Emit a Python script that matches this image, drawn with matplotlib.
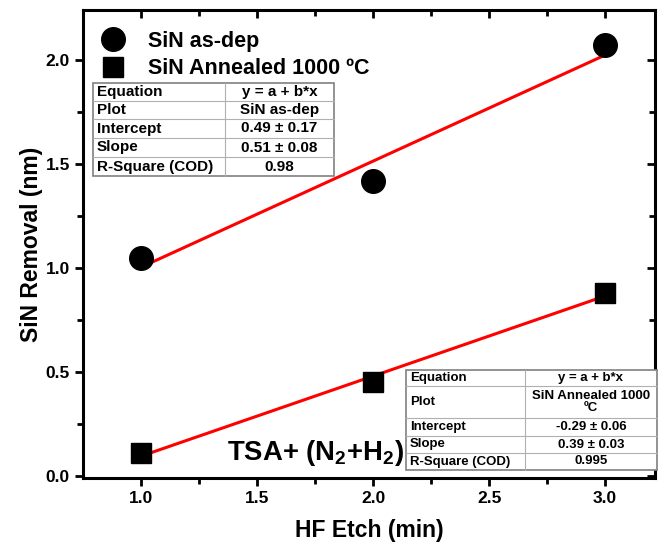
import numpy as np
import matplotlib
matplotlib.use("Agg")
import matplotlib.pyplot as plt
from matplotlib.lines import Line2D

plt.rcParams.update({
    "font.family": ["Liberation Sans", "DejaVu Sans"],
    "font.weight": "bold",
    "axes.labelweight": "bold",
    "mathtext.fontset": "custom",
    "mathtext.rm": "Liberation Sans:bold",
    "mathtext.default": "rm",
})

etch_min = [1.0, 2.0, 3.0]
asdep = [1.05, 1.42, 2.07]
annealed = [0.11, 0.45, 0.88]

table_asdep = [("Equation", "y = a + b*x"), ("Plot", "SiN as-dep"),
               ("Intercept", "0.49 \u00b1 0.17"), ("Slope", "0.51 \u00b1 0.08"),
               ("R-Square (COD)", "0.98")]
table_ann = [("Equation", "y = a + b*x"), ("Plot", "SiN Annealed 1000\n\u00baC"),
             ("Intercept", "-0.29 \u00b1 0.06"), ("Slope", "0.39 \u00b1 0.03"),
             ("R-Square (COD)", "0.995")]

W, H = 659, 554
fig = plt.figure(figsize=(W / 100, H / 100), dpi=100)
ax = fig.add_axes([83 / W, 1 - 478 / H, (655 - 83) / W, (478 - 10) / H])

ax.plot(etch_min, asdep, "o", color="black", ms=17, zorder=4, label="SiN as-dep")
ax.plot(etch_min, annealed, "s", color="black", ms=15, zorder=4, label="SiN Annealed 1000 \u00baC")
for ys in (asdep, annealed):
    b, a = np.polyfit(etch_min, ys, 1)
    xs = np.array([etch_min[0], etch_min[-1]])
    ax.plot(xs, a + b * xs, color="red", lw=2.2, zorder=3)

ax.set_xlim(0.75, 3.215)
ax.set_ylim(-0.01, 2.24)
ax.set_xticks([1.0, 1.5, 2.0, 2.5, 3.0])
ax.set_yticks([0.0, 0.5, 1.0, 1.5, 2.0])
ax.set_xticks(np.arange(1.25, 3.2, 0.5), minor=True)
ax.set_yticks(np.arange(0.25, 2.2, 0.5), minor=True)
ax.tick_params(which="major", direction="out", length=6, width=2, labelsize=12.5)
ax.tick_params(which="minor", direction="out", length=4, width=2)
for sp in ax.spines.values():
    sp.set_linewidth(2.2)
# top/right ticks pointing in
sx = ax.secondary_xaxis("top")
sx.set_xticks([1.0, 1.5, 2.0, 2.5, 3.0])
sx.set_xticks(np.arange(1.25, 3.2, 0.5), minor=True)
sx.tick_params(which="both", direction="in", labeltop=False, width=2)
sx.tick_params(which="major", length=6)
sx.tick_params(which="minor", length=4)
sy = ax.secondary_yaxis("right")
sy.set_yticks([0.0, 0.5, 1.0, 1.5, 2.0])
sy.set_yticks(np.arange(0.25, 2.2, 0.5), minor=True)
sy.tick_params(which="both", direction="in", labelright=False, width=2)
sy.tick_params(which="major", length=6)
sy.tick_params(which="minor", length=4)

ax.set_xlabel("HF Etch (min)", fontsize=16.5, labelpad=9)
ax.set_ylabel("SiN Removal (nm)", fontsize=16.5, labelpad=2)

ax.legend(loc="upper left", bbox_to_anchor=(0.0, 0.974), frameon=False, fontsize=15.5,
          handletextpad=0.6, labelspacing=0.3, borderaxespad=0.0, borderpad=0.4)

ax.text(1.752, 0.11, "TSA+ (N$_2$+H$_2$)", fontsize=19.8, ha="center", va="center")


def draw_table(rows, x0, xm, x1, yedges, fs):
    def fx(x):
        return x / W

    def fy(y):
        return 1 - y / H
    gray = "#b0b0b0"
    fig.add_artist(plt.Rectangle((fx(x0), fy(yedges[-1])), fx(x1) - fx(x0),
                                 fy(yedges[0]) - fy(yedges[-1]), transform=fig.transFigure,
                                 facecolor="white", edgecolor="#808080", lw=1.2, zorder=5))
    for y in yedges[1:-1]:
        fig.add_artist(Line2D([fx(x0), fx(x1)], [fy(y), fy(y)], color=gray, lw=0.8, zorder=6))
    fig.add_artist(Line2D([fx(xm), fx(xm)], [fy(yedges[0]), fy(yedges[-1])],
                          color=gray, lw=0.8, zorder=6))
    for (k, v), ya, yb in zip(rows, yedges[:-1], yedges[1:]):
        yc = fy((ya + yb) / 2)
        fig.text(fx(x0 + 4), yc, k, fontsize=fs, ha="left", va="center", zorder=7)
        fig.text(fx((xm + x1) / 2), yc, v, fontsize=fs, ha="center", va="center",
                 zorder=7, linespacing=1.1)


draw_table(table_asdep, 93, 225, 334, [83, 101, 119, 138, 157, 176], 11)
draw_table(table_ann, 406, 525, 657, [370, 386, 418, 436, 453, 470], 9.5)

fig.savefig("out.png", dpi=100)
